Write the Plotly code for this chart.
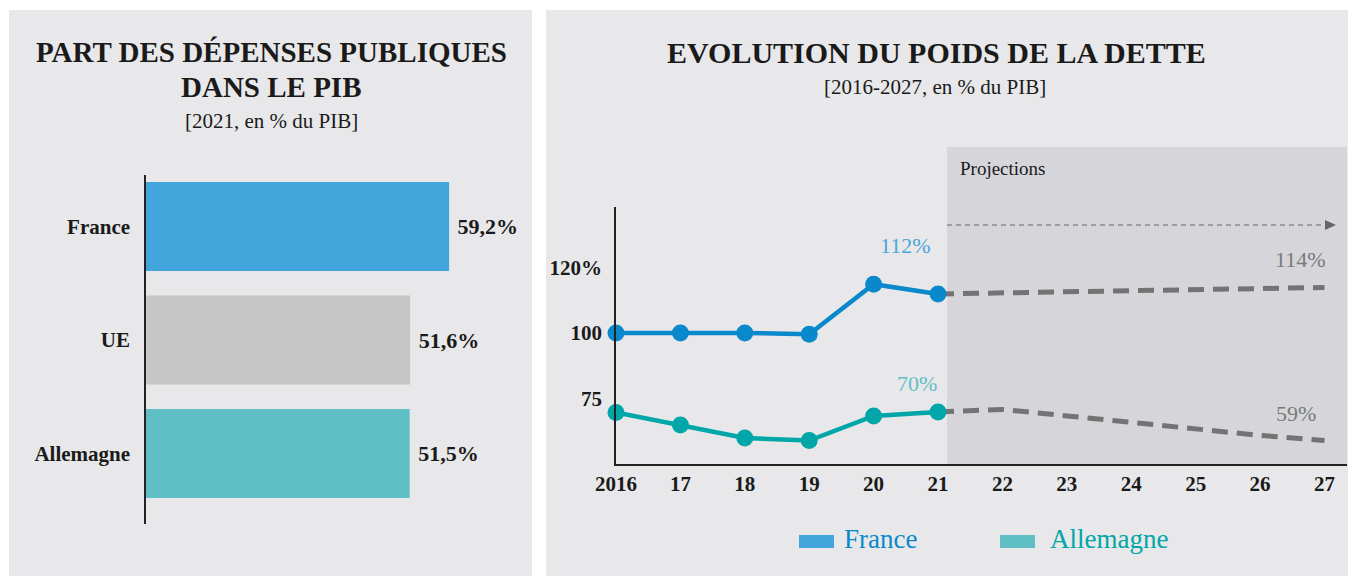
import plotly.graph_objects as go

# ---------------- data ----------------
# Public spending share of GDP, 2021
bar_countries = ["Allemagne", "UE", "France"]
bar_values = [51.5, 51.6, 59.2]
bar_labels = ["51,5%", "51,6%", "59,2%"]

# Debt ratio, % of GDP
years_hist = [2016, 2017, 2018, 2019, 2020, 2021]
years_proj = [2021, 2022, 2023, 2024, 2025, 2026, 2027]
france_hist = [100, 100, 100, 99.6, 115, 112]
france_proj = [112, 112.3, 112.7, 113, 113.3, 113.7, 114]
germany_hist = [69.8, 65, 60, 59, 68.5, 70]
germany_proj = [70, 71, 68.5, 66, 63.5, 61, 59]
year_ticks = list(range(2016, 2028))
year_tick_text = ["2016"] + [str(y)[2:] for y in range(2017, 2028)]

# ---------------- style ----------------
W, H = 1358, 576
FONT = "Liberation Serif"
PANEL = "#e8e8ea"
SHADE = "#d6d6da"
INK = "#1a1a1a"
C_FR_BAR = "#42a5dc"
C_UE_BAR = "#c6c6c6"
C_DE_BAR = "#5fbfc5"
C_FR_LINE = "#0a88cc"
C_DE_LINE = "#00a6a8"
C_PROJ = "#737373"


def px(x):
    return x / W


def py(y):
    return 1 - y / H


fig = go.Figure()

# ---------------- left: horizontal bars ----------------
fig.add_trace(go.Bar(
    y=bar_countries, x=bar_values, orientation="h",
    marker=dict(color=[C_DE_BAR, C_UE_BAR, C_FR_BAR], line=dict(width=0)),
    width=0.784,
    text=["\u00a0" + t for t in bar_labels], textposition="outside",
    textfont=dict(family=FONT, size=22, color=INK),
    texttemplate="<b>%{text}</b>",
    cliponaxis=False, xaxis="x3", yaxis="y3", showlegend=False,
    hoverinfo="skip",
))

# ---------------- right: debt lines ----------------
fig.add_trace(go.Scatter(
    x=years_proj, y=france_proj, mode="lines", xaxis="x", yaxis="y",
    line=dict(color=C_PROJ, width=5, dash="16px,9px"), showlegend=False,
    cliponaxis=False,
))
fig.add_trace(go.Scatter(
    x=years_proj, y=germany_proj, mode="lines", xaxis="x", yaxis="y2",
    line=dict(color=C_PROJ, width=5, dash="16px,9px"), showlegend=False,
    cliponaxis=False,
))
fig.add_trace(go.Scatter(
    x=years_hist, y=france_hist, mode="lines+markers", xaxis="x", yaxis="y",
    line=dict(color=C_FR_LINE, width=4.5), marker=dict(size=17, color=C_FR_LINE),
    showlegend=False, cliponaxis=False,
))
fig.add_trace(go.Scatter(
    x=years_hist, y=germany_hist, mode="lines+markers", xaxis="x", yaxis="y2",
    line=dict(color=C_DE_LINE, width=4.5), marker=dict(size=17, color=C_DE_LINE),
    showlegend=False, cliponaxis=False,
))

# ---------------- shapes ----------------
shapes = [
    dict(type="rect", xref="paper", yref="paper", x0=px(9), x1=px(532), y0=py(576), y1=py(10),
         fillcolor=PANEL, line=dict(width=0), layer="below"),
    dict(type="rect", xref="paper", yref="paper", x0=px(546), x1=px(1348), y0=py(576), y1=py(10),
         fillcolor=PANEL, line=dict(width=0), layer="below"),
    # projection zone
    dict(type="rect", xref="x", yref="paper", x0=2021.14, x1=2027.35, y0=py(464), y1=py(147),
         fillcolor=SHADE, line=dict(width=0), layer="below"),
    # projection arrow
    dict(type="line", xref="paper", yref="paper", x0=px(947), x1=px(1326), y0=py(225), y1=py(225),
         line=dict(color="#666666", width=1, dash="5px,4px")),
    dict(type="path", xref="paper", yref="paper",
         path=f"M {px(1325)} {py(220)} L {px(1336)} {py(225)} L {px(1325)} {py(230)} Z",
         fillcolor="#666666", line=dict(width=0)),
    # legend swatches
    dict(type="rect", xref="paper", yref="paper", x0=px(799), x1=px(834), y0=py(548), y1=py(535),
         fillcolor=C_FR_BAR, line=dict(width=0)),
    dict(type="rect", xref="paper", yref="paper", x0=px(1000), x1=px(1035), y0=py(548), y1=py(535),
         fillcolor=C_DE_BAR, line=dict(width=0)),
]


def note(text, x, y, size, color=INK, xanchor="center", bold=False):
    t = f"<b>{text}</b>" if bold else text
    return dict(text=t, x=px(x), y=py(y), xref="paper", yref="paper", xanchor=xanchor,
                yanchor="middle", showarrow=False, font=dict(family=FONT, size=size, color=color))


annotations = [
    note("PART DES DÉPENSES PUBLIQUES", 271, 52, 29, bold=True),
    note("DANS LE PIB", 271, 87, 29, bold=True),
    note("[2021, en % du PIB]", 271, 121, 21),
    note("EVOLUTION DU POIDS DE LA DETTE", 936, 52, 30, bold=True),
    note("[2016-2027, en % du PIB]", 935, 87, 21),
    note("Projections", 958, 168, 19, xanchor="left"),
    note("112%", 905, 246, 22, color="#4aa6dc"),
    note("70%", 917, 383, 22, color=C_DE_BAR),
    note("114%", 1300, 259, 22, color="#7a7a7a"),
    note("59%", 1296, 413, 22, color="#7a7a7a"),
    note("France", 842, 539, 27, color=C_FR_LINE, xanchor="left"),
    note("Allemagne", 1048, 539, 27, color=C_DE_LINE, xanchor="left"),
]

tickfont_bold = dict(family=FONT, size=21, color=INK, weight="bold")

fig.update_layout(
    width=W, height=H, margin=dict(l=0, r=0, t=0, b=0, autoexpand=False),
    paper_bgcolor="white", plot_bgcolor="rgba(0,0,0,0)",
    showlegend=False, shapes=shapes, annotations=annotations,
    # bar chart axes
    xaxis3=dict(domain=[px(146), px(504.4)], range=[0, 70], anchor="y3",
                visible=False, fixedrange=True, automargin=False),
    yaxis3=dict(domain=[py(524), py(175)], anchor="x3", type="category",
                categoryarray=bar_countries, range=[-0.621, 2.454],
                showline=True, linecolor="#222222", linewidth=1.5, showgrid=False,
                ticks="", ticklabelstandoff=10, automargin=False,
                tickfont=dict(family=FONT, size=21, color=INK, weight="bold")),
    # debt chart axes (broken y axis: France above, Germany below)
    xaxis=dict(domain=[px(616), px(1347)], range=[2016, 2027.35], anchor="y2",
               tickmode="array", tickvals=year_ticks, ticktext=year_tick_text,
               showline=True, linecolor="#222222", linewidth=1.5, showgrid=False,
               zeroline=False, ticks="", automargin=False, tickfont=tickfont_bold),
    yaxis=dict(domain=[py(370), py(207)], range=[88.6, 138.77], anchor="x",
               tickmode="array", tickvals=[100, 120], ticktext=["100", "120%"],
               showline=True, linecolor="#222222", linewidth=1.5, showgrid=False,
               zeroline=False, ticks="", ticklabelstandoff=8, automargin=False,
               tickfont=tickfont_bold),
    yaxis2=dict(domain=[py(464), py(370)], range=[50, 86.15], anchor="x",
                tickmode="array", tickvals=[75], ticktext=["75"],
                showline=True, linecolor="#222222", linewidth=1.5, showgrid=False,
                zeroline=False, ticks="", ticklabelstandoff=8, automargin=False,
                tickfont=tickfont_bold),
)

fig.write_html("out.html")
